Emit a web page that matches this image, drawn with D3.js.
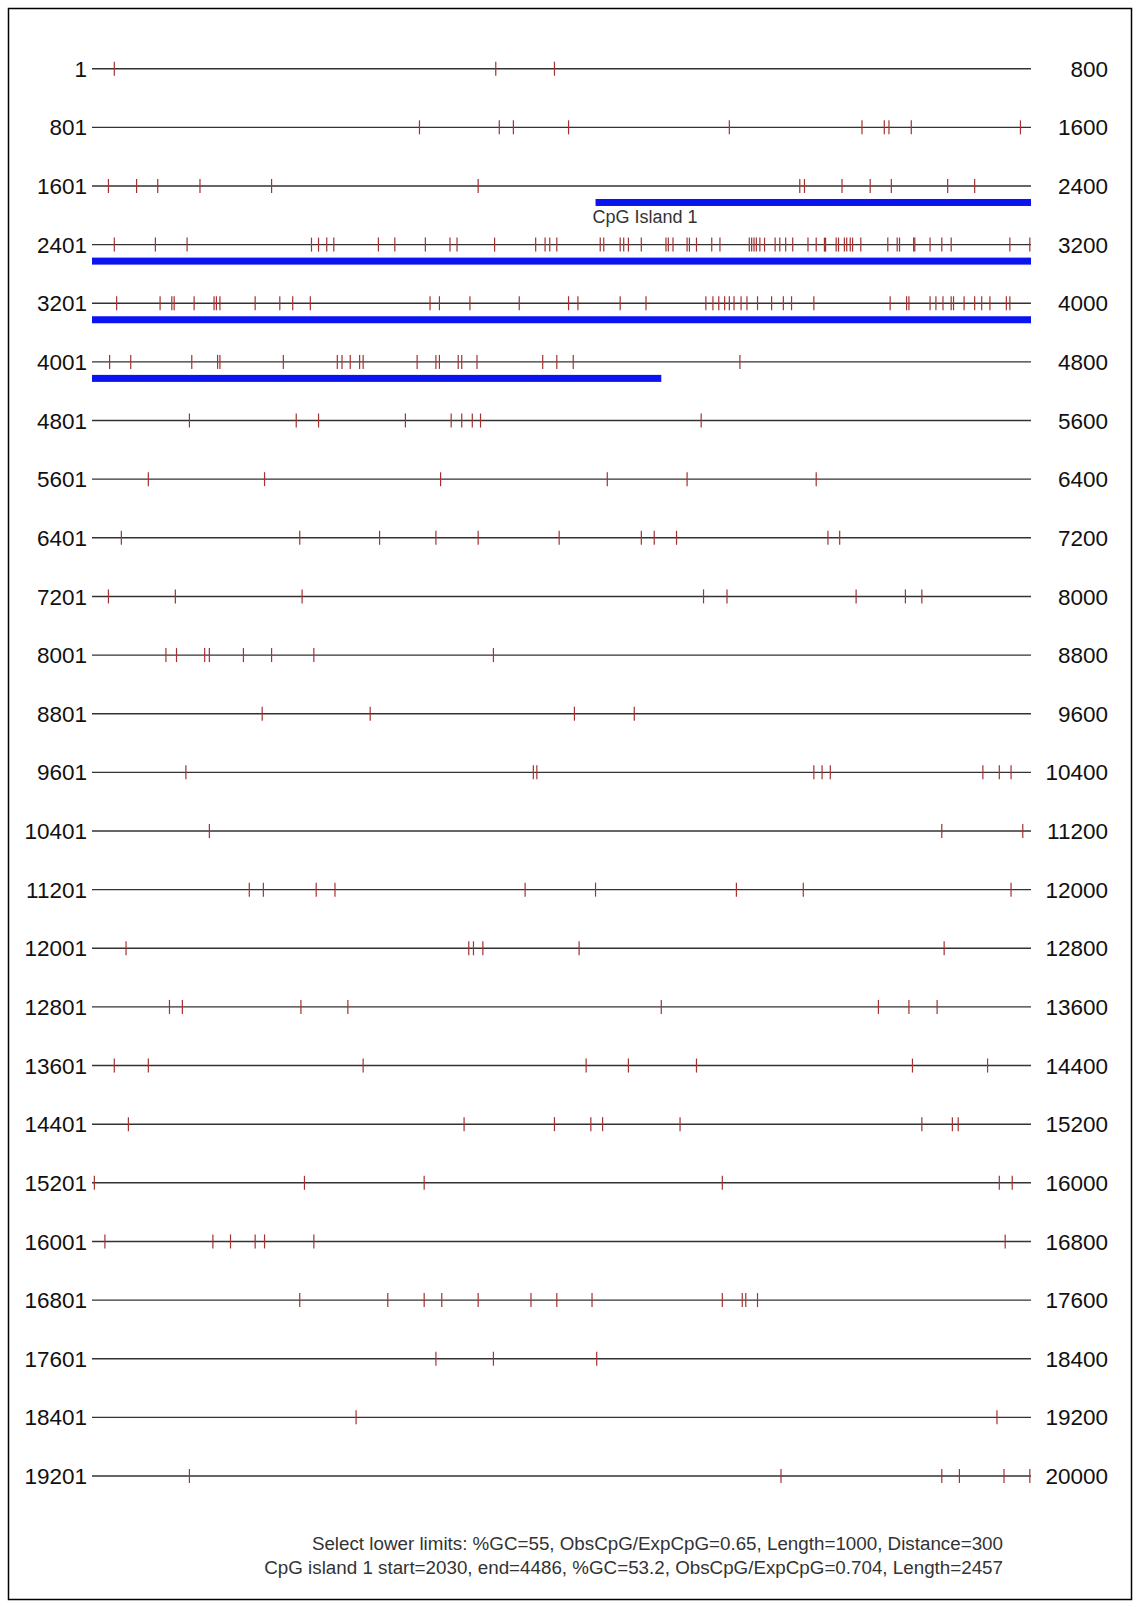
<!DOCTYPE html>
<html>
<head>
<meta charset="utf-8">
<script src="https://cdn.jsdelivr.net/npm/d3@7"></script>
<style>
  body { margin: 0; background: #fff; }
  svg { display: block; font-family: "Liberation Sans", Arial, sans-serif; }
</style>
</head>
<body>
<svg id="map" width="1139" height="1607"></svg>
<script>
// Sequence layout: 20000 bp wrapped into rows of 800
const rowLength = 800;
const rowStarts = [1, 801, 1601, 2401, 3201, 4001, 4801, 5601, 6401, 7201, 8001, 8801, 9601,
    10401, 11201, 12001, 12801, 13601, 14401, 15201, 16001, 16801, 17601, 18401, 19201];
const rowEnds = [800, 1600, 2400, 3200, 4000, 4800, 5600, 6400, 7200, 8000, 8800, 9600, 10400,
    11200, 12000, 12800, 13600, 14400, 15200, 16000, 16800, 17600, 18400, 19200, 20000];

// CpG dinucleotide positions
const cpgSites1 = [20, 345, 395,
    1080, 1148, 1160, 1207, 1344, 1457, 1476, 1480, 1499, 1592,
    1615, 1639, 1657, 1693, 1754, 1930, 2204, 2208, 2240, 2264, 2282, 2330, 2353];
const cpgSites2 = [2420, 2455, 2482, 2588, 2594, 2601, 2607, 2645, 2659, 2685, 2706, 2712, 2744,
    2779, 2787, 2791, 2797, 2834, 2837, 2851, 2854, 2858, 2869, 2890, 2892, 2896, 2908, 2910,
    2916, 2929, 2936, 2961, 2963, 2965, 2967, 2970, 2974, 2983, 2987, 2992, 2998, 3011, 3018,
    3025, 3026, 3035, 3037, 3042, 3044, 3047, 3049, 3056, 3079, 3087, 3089, 3101, 3102, 3115,
    3125, 3133, 3183, 3200];
const cpgSites3 = [3222, 3259, 3269, 3271, 3288, 3305, 3307, 3310, 3340, 3361, 3372, 3387, 3489,
    3497, 3523, 3565, 3607, 3615, 3651, 3673, 3724, 3730, 3735, 3740, 3744, 3748, 3754, 3759,
    3768, 3780, 3790, 3797, 3816, 3881, 3895, 3897, 3915, 3920, 3926, 3933, 3935, 3944, 3953,
    3959, 3966, 3980, 3983];
const cpgSites4 = [4016, 4034, 4086, 4108, 4110, 4164, 4210, 4214, 4221, 4229, 4232, 4278, 4294,
    4297, 4313, 4316, 4329, 4385, 4397, 4411, 4553,
    4884, 4975, 4994, 5068, 5107, 5116, 5125, 5132, 5320,
    5649, 5748, 5898, 6040, 6108, 6218,
    6426, 6578, 6646, 6694, 6730, 6799, 6869, 6880, 6899, 7028, 7038,
    7215, 7272, 7380, 7722, 7742, 7852, 7894, 7908,
    8064, 8073, 8097, 8101, 8130, 8154, 8190, 8343];
const cpgSites5 = [8946, 9038, 9212, 9263,
    9681, 9977, 9980, 10216, 10223, 10230, 10360, 10374, 10384,
    10501, 11125, 11194,
    11335, 11347, 11392, 11408, 11570, 11630, 11750, 11807, 11984,
    12030, 12322, 12326, 12334, 12416, 12727,
    12867, 12878, 12979, 13019, 13286, 13471, 13497, 13521];
const cpgSites6 = [13620, 13649, 13832, 14022, 14058, 14116, 14300, 14364,
    14432, 14718, 14795, 14826, 14836, 14902, 15108, 15134, 15139,
    15203, 15382, 15484, 15738, 15974, 15985,
    16012, 16104, 16119, 16140, 16148, 16190, 16779,
    16978, 17053, 17084, 17099, 17130, 17175, 17197, 17227, 17338, 17355, 17358, 17368,
    17894, 17943, 18031,
    18626, 19172,
    19284, 19788, 19925, 19940, 19978, 20000];
const cpgSites = [...cpgSites1, ...cpgSites2, ...cpgSites3, ...cpgSites4, ...cpgSites5, ...cpgSites6];

// CpG island
const islandNames = ["CpG Island 1"];
const islandStarts = [2030];
const islandEnds = [4486];

const footerLines = [
    "Select lower limits: %GC=55, ObsCpG/ExpCpG=0.65, Length=1000, Distance=300",
    "CpG island 1 start=2030, end=4486, %GC=53.2, ObsCpG/ExpCpG=0.704, Length=2457"
];

const svg = d3.select("#map");

// Frame
svg.append("rect")
    .attr("x", 8.5).attr("y", 8.5)
    .attr("width", 1123).attr("height", 1591)
    .attr("fill", "none")
    .attr("stroke", "#000")
    .attr("stroke-width", 1.5);

// Scales
const x = d3.scaleLinear().domain([0, rowLength]).range([92, 1031]);
const y = d3.scalePoint().domain(d3.range(rowStarts.length)).range([68.7, 1476]);

const rowOf = p => Math.floor((p - 1) / rowLength);
const offsetOf = p => p - 1 - rowOf(p) * rowLength;

// Row lines
svg.append("g").selectAll("line")
    .data(rowStarts)
    .enter().append("line")
    .attr("x1", x(0))
    .attr("x2", x(rowLength))
    .attr("y1", (d, i) => y(i))
    .attr("y2", (d, i) => y(i))
    .attr("stroke", "#333")
    .attr("stroke-width", 1.4);

// Row labels
svg.append("g").selectAll("text")
    .data(rowStarts)
    .enter().append("text")
    .attr("x", 87)
    .attr("y", (d, i) => y(i))
    .attr("dy", "0.36em")
    .attr("text-anchor", "end")
    .attr("font-size", 22.5)
    .attr("fill", "#111")
    .text(d => d);

svg.append("g").selectAll("text")
    .data(rowEnds)
    .enter().append("text")
    .attr("x", 1108)
    .attr("y", (d, i) => y(i))
    .attr("dy", "0.36em")
    .attr("text-anchor", "end")
    .attr("font-size", 22.5)
    .attr("fill", "#111")
    .text(d => d);

// CpG ticks
svg.append("g").selectAll("line")
    .data(cpgSites)
    .enter().append("line")
    .attr("x1", d => x(offsetOf(d)))
    .attr("x2", d => x(offsetOf(d)))
    .attr("y1", d => y(rowOf(d)) - 7)
    .attr("y2", d => y(rowOf(d)) + 7)
    .attr("stroke", "#a83030")
    .attr("stroke-width", 1.2);

// Island bars, split by row
const islandSegments = [];
islandStarts.forEach((s, k) => {
    const e = islandEnds[k];
    for (let r = rowOf(s); r <= rowOf(e); r++) {
        const a = r === rowOf(s) ? offsetOf(s) : 0;
        const b = r === rowOf(e) ? offsetOf(e) : rowLength;
        islandSegments.push({ row: r, a, b, first: r === rowOf(s), name: islandNames[k] });
    }
});

svg.append("g").selectAll("rect")
    .data(islandSegments)
    .enter().append("rect")
    .attr("x", d => x(d.a))
    .attr("width", d => x(d.b) - x(d.a))
    .attr("y", d => y(d.row) + 13)
    .attr("height", 7)
    .attr("fill", "#0a14f0");

svg.append("g").selectAll("text")
    .data(islandSegments.filter(d => d.first))
    .enter().append("text")
    .attr("x", d => x(d.a) - 3)
    .attr("y", d => y(d.row) + 37)
    .attr("font-size", 18)
    .attr("fill", "#333")
    .text(d => d.name);

// Footer
svg.append("g").selectAll("text")
    .data(footerLines)
    .enter().append("text")
    .attr("x", 1003)
    .attr("y", (d, i) => 1550 + i * 23.5)
    .attr("text-anchor", "end")
    .attr("font-size", 18.8)
    .attr("fill", "#333")
    .text(d => d);
</script>
</body>
</html>
